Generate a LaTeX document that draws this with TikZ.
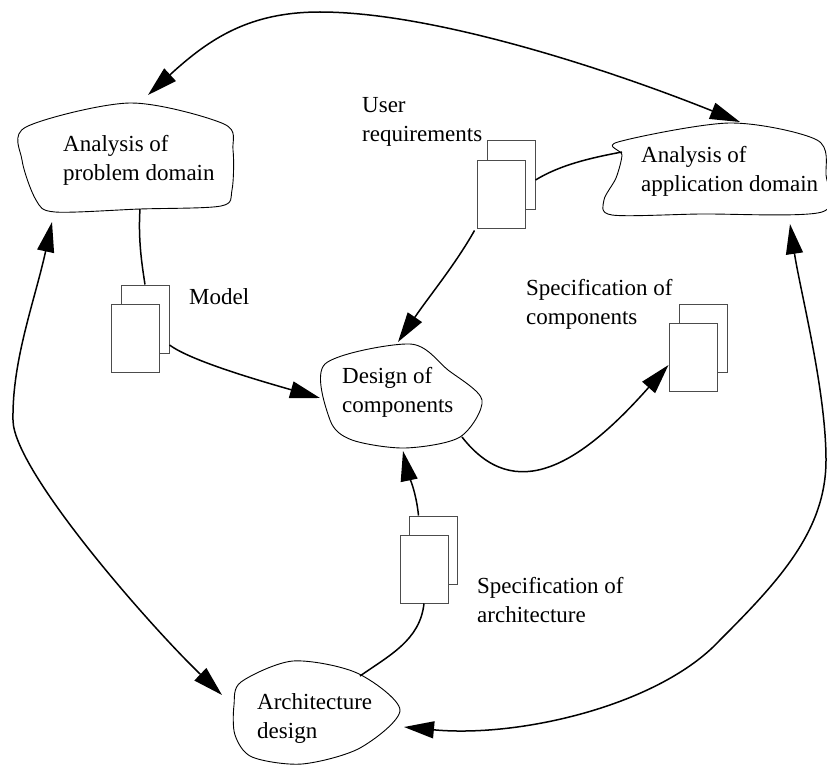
\documentclass[tikz,border=0pt]{standalone}
\usepackage{fontspec}
\setmainfont{Liberation Serif}
\usetikzlibrary{arrows.meta}
\begin{document}
\begin{tikzpicture}[x=1pt,y=-1pt,
  blob/.style={draw=black,line width=0.9pt},
  docsheet/.style={draw=black!70,line width=1pt,fill=white,rectangle,
    minimum width=48pt,minimum height=68pt,inner sep=0pt},
  lbl/.style={inner sep=0pt,anchor=west,align=left,
    font=\fontsize{23}{29}\selectfont},
  link/.style={draw=black,line width=1.5pt},
  tipend/.style={-{Triangle[length=30pt,width=17pt]}},
  tipboth/.style={{Triangle[length=30pt,width=17pt]}-{Triangle[length=30pt,width=17pt]}}
]
\useasboundingbox (0,0) rectangle (827,765);

% ---- activity blobs ----
% analysis of problem domain
\draw[blob] plot[smooth cycle,tension=0.5] coordinates
  {(26,127) (130,103) (224,124) (233,150) (232,190) (221,206) (140,209) (55,212) (36,200) (22,160)};
\node[lbl] (apd) at (63,160) {Analysis of\\problem domain};
\coordinate (apd-s) at (140,209);
\coordinate (apd-n) at (148,95);
\coordinate (apd-sw) at (52,222);

% analysis of application domain
\draw[blob] plot[smooth cycle,tension=0.5] coordinates
  {(618,142) (730,123) (817,140) (826,175) (822,212) (700,214) (612,215) (604,200) (616,178) (622,155)};
\node[lbl] (aad) at (641,171) {Analysis of\\application domain};
\coordinate (aad-w) at (622,152);
\coordinate (aad-n) at (740,122);
\coordinate (aad-s) at (790,224);

% design of components
\draw[blob] plot[smooth cycle,tension=0.5] coordinates
  {(325,364) (410,344) (448,370) (482,400) (460,437) (405,448) (352,440) (330,420)};
\node[lbl] (dc) at (342,392) {Design of\\components};
\coordinate (dc-w) at (320,398);
\coordinate (dc-n) at (398,342);
\coordinate (dc-s) at (403,451);
\coordinate (dc-se) at (462,437);

% architecture design
\draw[blob] plot[smooth cycle,tension=0.5] coordinates
  {(241,682) (293,661) (357,673) (400,710) (360,748) (302,764) (252,757) (235,735) (234,705)};
\node[lbl] (ad) at (257,718) {Architecture\\design};
\coordinate (ad-w) at (222,695);
\coordinate (ad-e) at (404,727);
\coordinate (ad-n) at (360,676);

% ---- document pairs ----
\node[docsheet] (mdb) at (145,319) {};
\node[docsheet] (mdf) at (135,338) {};
\node[lbl] (mdl) at (189,297) {Model};

\node[docsheet] (urb) at (511,175) {};
\node[docsheet] (urf) at (501,194) {};
\node[lbl] (url) at (362,122) {User\\requirements};

\node[docsheet] (scb) at (703,338) {};
\node[docsheet] (scf) at (693,357) {};
\node[lbl] (scl) at (526,304) {Specification of\\components};

\node[docsheet] (sab) at (433,550) {};
\node[docsheet] (saf) at (424,569) {};
\node[lbl] (sal) at (477,600) {Specification of\\architecture};

% ---- connectors ----
\draw[link,tipboth] (apd-n) .. controls (210,38) and (250,12) .. (320,12)
  .. controls (430,12) and (600,66) .. (aad-n);
\draw[link,tipboth] (apd-sw) .. controls (35,300) and (12,360) .. (13,420)
  .. controls (13,470) and (150,626) .. (ad-w);
\draw[link,tipboth] (aad-s) .. controls (800,290) and (826,390) .. (826,460)
  .. controls (826,530) and (780,580) .. (720,640)
  .. controls (660,705) and (520,738) .. (ad-e);

\draw[link] (apd-s) .. controls (138,240) and (142,265) .. (mdb.north);
\draw[link,tipend] (mdb.south east |- 0,345) .. controls (190,360) and (250,378) .. (dc-w);
\draw[link] (urb.east |- 0,180) .. controls (560,165) and (590,158) .. (aad-w);
\draw[link,tipend] (urf.south west) ++(-2,2) .. controls (455,265) and (430,295) .. (dc-n);
\draw[link,tipend] (dc-se) .. controls (515,505) and (580,465) .. (scf.west |- 0,365);
\draw[link] (ad-n) .. controls (390,655) and (420,640) .. (saf.south) ++(4,0);
\draw[link,tipend] (sab.north west) ++(10,0) .. controls (416,490) and (407,470) .. (dc-s);
\end{tikzpicture}
\end{document}
